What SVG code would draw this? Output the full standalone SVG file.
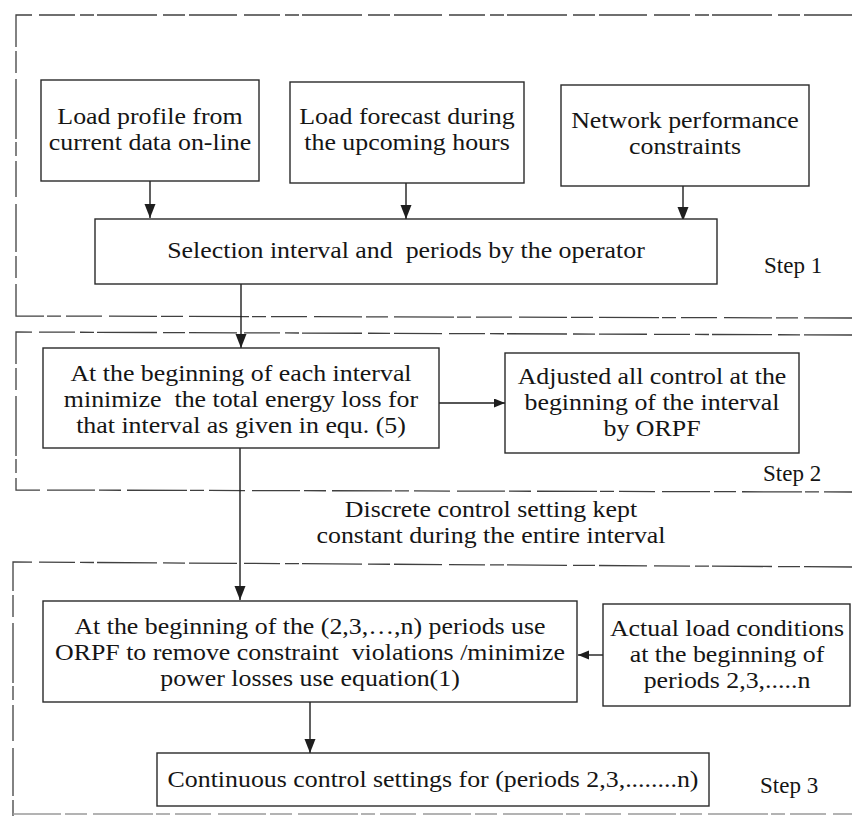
<svg xmlns="http://www.w3.org/2000/svg" width="852" height="816" viewBox="0 0 852 816">
  <defs>
    <style>
      .panel { fill: none; stroke: #404040; stroke-width: 1.3; stroke-dasharray: 48 4 22 6 60 3 14 5 36 7; }
      .box { fill: #ffffff; stroke: #2a2a2a; stroke-width: 1.4; }
      .t { font-family: "Liberation Serif", "Times New Roman", serif; font-size: 22.5px; fill: #151515; text-anchor: middle; }
      .step { font-family: "Liberation Serif", "Times New Roman", serif; font-size: 23px; fill: #151515; }
      .conn { fill: none; stroke: #1e1e1e; stroke-width: 1.4; }
    </style>
    <marker id="ah" markerUnits="userSpaceOnUse" markerWidth="14" markerHeight="12" refX="14" refY="5.5" orient="auto">
      <path d="M0,0 L14,5.5 L0,11 Z" fill="#1e1e1e"/>
    </marker>
    <marker id="ahs" markerUnits="userSpaceOnUse" markerWidth="12" markerHeight="10" refX="11" refY="4.5" orient="auto">
      <path d="M0,0 L11,4.5 L0,9 Z" fill="#1e1e1e"/>
    </marker>
  </defs>
  <rect x="0" y="0" width="852" height="816" fill="#ffffff"/>

  <g id="panels">
    <path class="panel" d="M852,15 L16,15 L16,316 L852,318"/>
    <path class="panel" d="M852,335 L16,332 L16,490 L852,492"/>
    <path class="panel" d="M852,567 L13,562 L13,816"/>
    <path class="panel" d="M13,814 L852,814" style="stroke:#9a9a9a"/>
  </g>

  <g id="labels">
    <text class="step" x="764" y="273">Step 1</text>
    <text class="step" x="763" y="481">Step 2</text>
    <text class="step" x="760" y="793">Step 3</text>
    <g id="note-discrete" transform="translate(491 0) scale(1.15 1)">
      <text class="t" x="0" y="517">Discrete control setting kept</text>
      <text class="t" x="0" y="543">constant during the entire interval</text>
    </g>
  </g>

  <g id="connectors">
    <line class="conn" x1="150" y1="181" x2="150" y2="218" marker-end="url(#ah)"/>
    <line class="conn" x1="406" y1="183" x2="406" y2="219" marker-end="url(#ah)"/>
    <line class="conn" x1="683" y1="186" x2="683" y2="221" marker-end="url(#ah)"/>
    <line class="conn" x1="241" y1="284" x2="241" y2="348" marker-end="url(#ah)"/>
    <line class="conn" x1="240" y1="448" x2="240" y2="600" marker-end="url(#ah)"/>
    <line class="conn" x1="439" y1="403" x2="505" y2="403" marker-end="url(#ahs)"/>
    <line class="conn" x1="603" y1="655" x2="578" y2="655" marker-end="url(#ahs)"/>
    <line class="conn" x1="310" y1="702" x2="310" y2="753" marker-end="url(#ah)"/>
  </g>

  <g id="load-profile">
    <rect class="box" x="41" y="80" width="218" height="101"/>
    <g transform="translate(150 0) scale(1.15 1)">
      <text class="t" x="0" y="124">Load profile from</text>
      <text class="t" x="0" y="150">current data on-line</text>
    </g>
  </g>

  <g id="load-forecast">
    <rect class="box" x="290" y="82" width="234" height="101"/>
    <g transform="translate(407 0) scale(1.15 1)">
      <text class="t" x="0" y="124">Load forecast during</text>
      <text class="t" x="0" y="150">the upcoming hours</text>
    </g>
  </g>

  <g id="network-constraints">
    <rect class="box" x="561" y="85" width="248" height="101"/>
    <g transform="translate(685 0) scale(1.15 1)">
      <text class="t" x="0" y="128">Network performance</text>
      <text class="t" x="0" y="154">constraints</text>
    </g>
  </g>

  <g id="selection">
    <rect class="box" x="95" y="219" width="622" height="65"/>
    <g transform="translate(406 0) scale(1.15 1)">
      <text class="t" x="0" y="258" xml:space="preserve">Selection interval and  periods by the operator</text>
    </g>
  </g>

  <g id="minimize-energy">
    <rect class="box" x="43" y="348" width="396" height="100"/>
    <g transform="translate(241 0) scale(1.15 1)">
      <text class="t" x="0" y="381">At the beginning of each interval</text>
      <text class="t" x="0" y="407" xml:space="preserve">minimize  the total energy loss for</text>
      <text class="t" x="0" y="433">that interval as given in equ. (5)</text>
    </g>
  </g>

  <g id="adjusted-control">
    <rect class="box" x="505" y="353" width="294" height="100"/>
    <g transform="translate(652 0) scale(1.15 1)">
      <text class="t" x="0" y="384">Adjusted all control at the</text>
      <text class="t" x="0" y="410">beginning of the interval</text>
      <text class="t" x="0" y="436">by ORPF</text>
    </g>
  </g>

  <g id="orpf-periods">
    <rect class="box" x="43" y="601" width="534" height="101"/>
    <g transform="translate(310 0) scale(1.15 1)">
      <text class="t" x="0" y="634">At the beginning of the (2,3,…,n) periods use</text>
      <text class="t" x="0" y="660" xml:space="preserve">ORPF to remove constraint  violations /minimize</text>
      <text class="t" x="0" y="686">power losses use equation(1)</text>
    </g>
  </g>

  <g id="actual-load">
    <rect class="box" x="603" y="604" width="247" height="102"/>
    <g transform="translate(727 0) scale(1.15 1)">
      <text class="t" x="0" y="636">Actual load conditions</text>
      <text class="t" x="0" y="662">at the beginning of</text>
      <text class="t" x="0" y="688">periods 2,3,.....n</text>
    </g>
  </g>

  <g id="continuous-settings">
    <rect class="box" x="157" y="753" width="552" height="53"/>
    <g transform="translate(433 0) scale(1.15 1)">
      <text class="t" x="0" y="787">Continuous control settings for (periods 2,3,........n)</text>
    </g>
  </g>
</svg>
